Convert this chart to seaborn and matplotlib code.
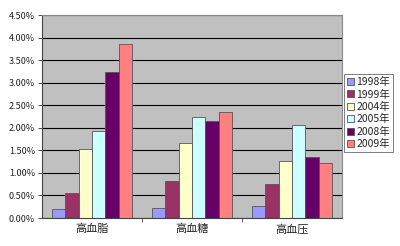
import matplotlib
matplotlib.use("Agg")
import matplotlib.pyplot as plt
import seaborn as sns
import pandas as pd
from matplotlib.ticker import FuncFormatter, FixedLocator

categories = ["高血脂", "高血糖", "高血压"]
years = ["1998年", "1999年", "2004年", "2005年", "2008年", "2009年"]
v1998 = [0.21, 0.22, 0.26]
v1999 = [0.55, 0.82, 0.75]
v2004 = [1.52, 1.66, 1.26]
v2005 = [1.92, 2.23, 2.06]
v2008 = [3.23, 2.16, 1.35]
v2009 = [3.86, 2.34, 1.21]
colors = ["#9999FF", "#993366", "#FFFFCC", "#CCFFFF", "#660066", "#FF8080"]

series = [v1998, v1999, v2004, v2005, v2008, v2009]
rows = []
for y, vals in zip(years, series):
    for c, v in zip(categories, vals):
        rows.append({"cat": c, "year": y, "val": v})
df = pd.DataFrame(rows)

sns.set_theme(style="white")
plt.rcParams['font.family'] = ['Noto Sans CJK SC', 'DejaVu Sans']

fig = plt.figure(figsize=(4.0, 2.46), dpi=100)
ax = fig.add_axes([42/400, 1-218/246, 300/400, 203/246])
ax.set_facecolor("#C0C0C0")
sns.barplot(data=df, x="cat", y="val", hue="year", palette=colors, ax=ax,
            width=0.8, edgecolor="#555555", linewidth=0.6, saturation=1, errorbar=None)
ax.set_ylim(0, 4.5)
ax.set_xlim(-0.5, 2.5)
ax.set_yticks([i*0.5 for i in range(10)])
ax.yaxis.set_major_formatter(FuncFormatter(lambda v, p: f"{v:.2f}%"))
ax.yaxis.grid(True, color="black", linewidth=0.8)
ax.set_axisbelow(True)
ax.set_xlabel("")
ax.set_ylabel("")
for s in ["left", "bottom"]:
    ax.spines[s].set_color("#444444")
    ax.spines[s].set_linewidth(0.8)
for s in ["top", "right"]:
    ax.spines[s].set_color("#888888")
    ax.spines[s].set_linewidth(0.8)
ax.tick_params(axis="y", labelsize=6.5, length=3, width=0.6, direction="out", left=True, pad=2, colors="#333333")
ax.tick_params(axis="x", labelsize=8, length=0, pad=4, colors="#222222")
ax.xaxis.set_minor_locator(FixedLocator([0.5, 1.5]))
ax.tick_params(axis="x", which="minor", length=3, width=0.6, direction="out", bottom=True, color="#444444")
for lbl in ax.get_xticklabels() + ax.get_yticklabels():
    lbl.set_color("#222222")

handles, labels = ax.get_legend_handles_labels()
leg = ax.legend(handles, labels, loc="upper left", bbox_to_anchor=(344/400, 1-74/246),
                bbox_transform=fig.transFigure, frameon=True, fontsize=7.5,
                handlelength=0.65, handleheight=0.65, handletextpad=0.25,
                labelspacing=0.22, borderpad=0.3, borderaxespad=0, fancybox=False)
leg.get_frame().set_edgecolor("#444444")
leg.get_frame().set_linewidth(0.6)

fig.savefig("out.png", dpi=100, facecolor="white")
